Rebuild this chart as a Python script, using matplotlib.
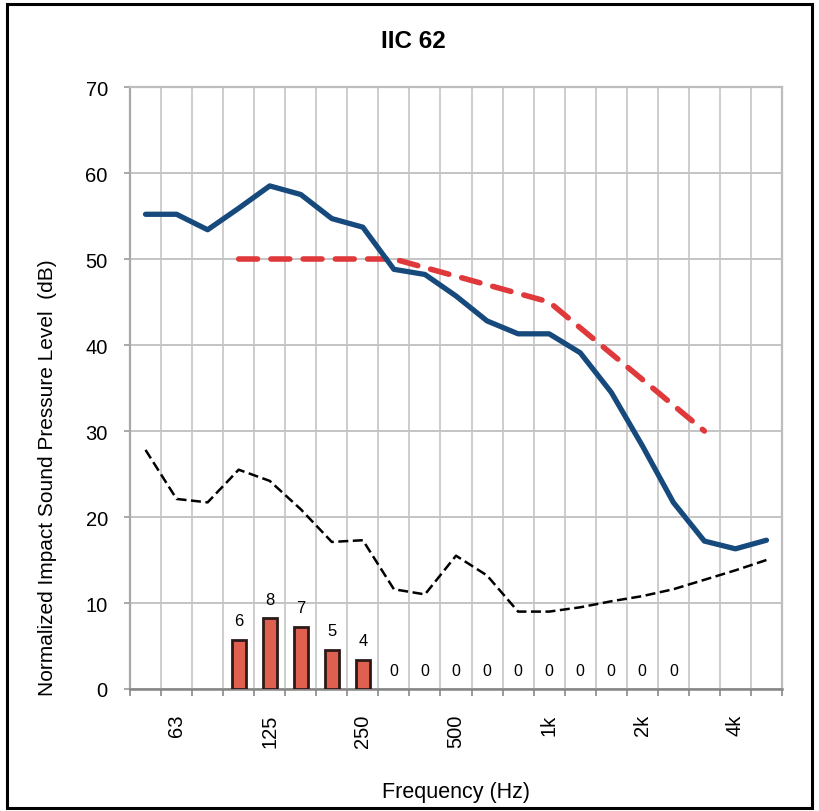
import matplotlib
matplotlib.use('Agg')
import matplotlib.pyplot as plt
from matplotlib.patches import Rectangle

plt.rcParams['font.family'] = ['Liberation Sans', 'DejaVu Sans']

# 1/3 octave bands, 50 Hz - 5 kHz
freqs = ['50', '63', '80', '100', '125', '160', '200', '250', '315', '400', '500',
         '630', '800', '1k', '1.25k', '1.6k', '2k', '2.5k', '3.15k', '4k', '5k']
shown_labels = ['63', '125', '250', '500', '1k', '2k', '4k']

# measured normalized impact sound pressure level
measured = [55.2, 55.2, 53.4, 55.9, 58.5, 57.5, 54.7, 53.7, 48.8, 48.2, 45.7,
            42.8, 41.3, 41.3, 39.1, 34.5, 28.3, 21.7, 17.2, 16.3, 17.3]

# background noise
background = [27.8, 22.1, 21.7, 25.5, 24.2, 20.9, 17.1, 17.3, 11.6, 11.0, 15.5,
              13.2, 9.0, 9.0, 9.5, 10.2, 10.8, 11.6, 12.7, 13.8, 15.0]

# IIC reference contour (100 Hz - 3.15 kHz)
contour_freqs = freqs[3:19]
contour = [50, 50, 50, 50, 50, 50, 49, 48, 47, 46, 45, 42, 39, 36, 33, 30]

# deficiencies
deficiency_freqs = ['100', '125', '160', '200', '250']
deficiency = [5.7, 8.2, 7.2, 4.5, 3.4]
deficiency_labels = [6, 8, 7, 5, 4]
zero_freqs = ['315', '400', '500', '630', '800', '1k', '1.25k', '1.6k', '2k', '2.5k']

pos = {f: i for i, f in enumerate(freqs)}

fig = plt.figure(figsize=(8.19, 8.12), dpi=100)
ax = fig.add_axes([130 / 819, 1 - 690 / 812, 652 / 819, 602 / 812])

x_all = [pos[f] for f in freqs]
x_contour = [pos[f] for f in contour_freqs]
x_def = [pos[f] for f in deficiency_freqs]

# bars with deficiency labels
ax.bar(x_def, deficiency, width=0.45, color='#e0604f', edgecolor='#2b1a18', linewidth=2.0, zorder=3)
for x, h, lab in zip(x_def, deficiency, deficiency_labels):
    ax.annotate(str(lab), (x, h), xytext=(0, 14), textcoords='offset points',
                ha='center', va='center', fontsize=12, zorder=5)
for f in zero_freqs:
    ax.annotate('0', (pos[f], 0), xytext=(0, 13), textcoords='offset points',
                ha='center', va='center', fontsize=11.5, zorder=5)

ax.plot(x_all, background, color='black', linewidth=1.8, dashes=(4.0, 1.8), zorder=4)
ax.plot(x_contour, contour, color='#e0393c', linewidth=4.0, dashes=(3.4, 2.4),
        dash_capstyle='round', zorder=4)
ax.plot(x_all, measured, color='#174a7c', linewidth=3.8, solid_joinstyle='round',
        solid_capstyle='round', zorder=4)

ax.set_xlim(-0.5, len(freqs) - 0.5)
ax.set_ylim(0, 70)
ax.set_yticks(range(0, 71, 10))

# labels only at octave centres, ticks and grid at band edges
ax.set_xticks([pos[f] for f in shown_labels])
ax.set_xticklabels(shown_labels, rotation=90, fontsize=14.5)
ax.set_xticks([i - 0.5 for i in range(len(freqs) + 1)], minor=True)
ax.tick_params(axis='x', which='major', length=0, pad=18)
ax.tick_params(axis='x', which='minor', length=5, color='#888888', width=1.2, direction='out')
ax.tick_params(axis='y', length=4, color='#999999', width=1.2, pad=12, labelsize=14.5)

ax.grid(axis='y', color='#c4c4c4', linewidth=1.4, zorder=0)
ax.grid(axis='x', which='minor', color='#cdcdcd', linewidth=1.4, zorder=0)
ax.set_axisbelow(True)

for side in ['top', 'right']:
    ax.spines[side].set_color('#bdbdbd')
    ax.spines[side].set_linewidth(1.6)
ax.spines['left'].set_color('#a8a8a8')
ax.spines['left'].set_linewidth(1.6)
ax.spines['bottom'].set_color('#858585')
ax.spines['bottom'].set_linewidth(1.8)

ax.set_ylabel('Normalized Impact Sound Pressure Level  (dB)', fontsize=15)
ax.yaxis.set_label_coords(-0.112, 0.352)
ax.set_xlabel('Frequency (Hz)', fontsize=15.5)
ax.xaxis.set_label_coords(0.5, -0.152)

fig.text(0.505, 1 - 42 / 812, 'IIC 62', ha='center', va='center', fontsize=17.5, fontweight='bold')

# outer frame of the scanned chart
fig.patches.append(Rectangle((0.009, 0.004), 0.983, 0.99, transform=fig.transFigure,
                             fill=False, edgecolor='black', linewidth=2.2))

fig.savefig('out.png', dpi=100)
